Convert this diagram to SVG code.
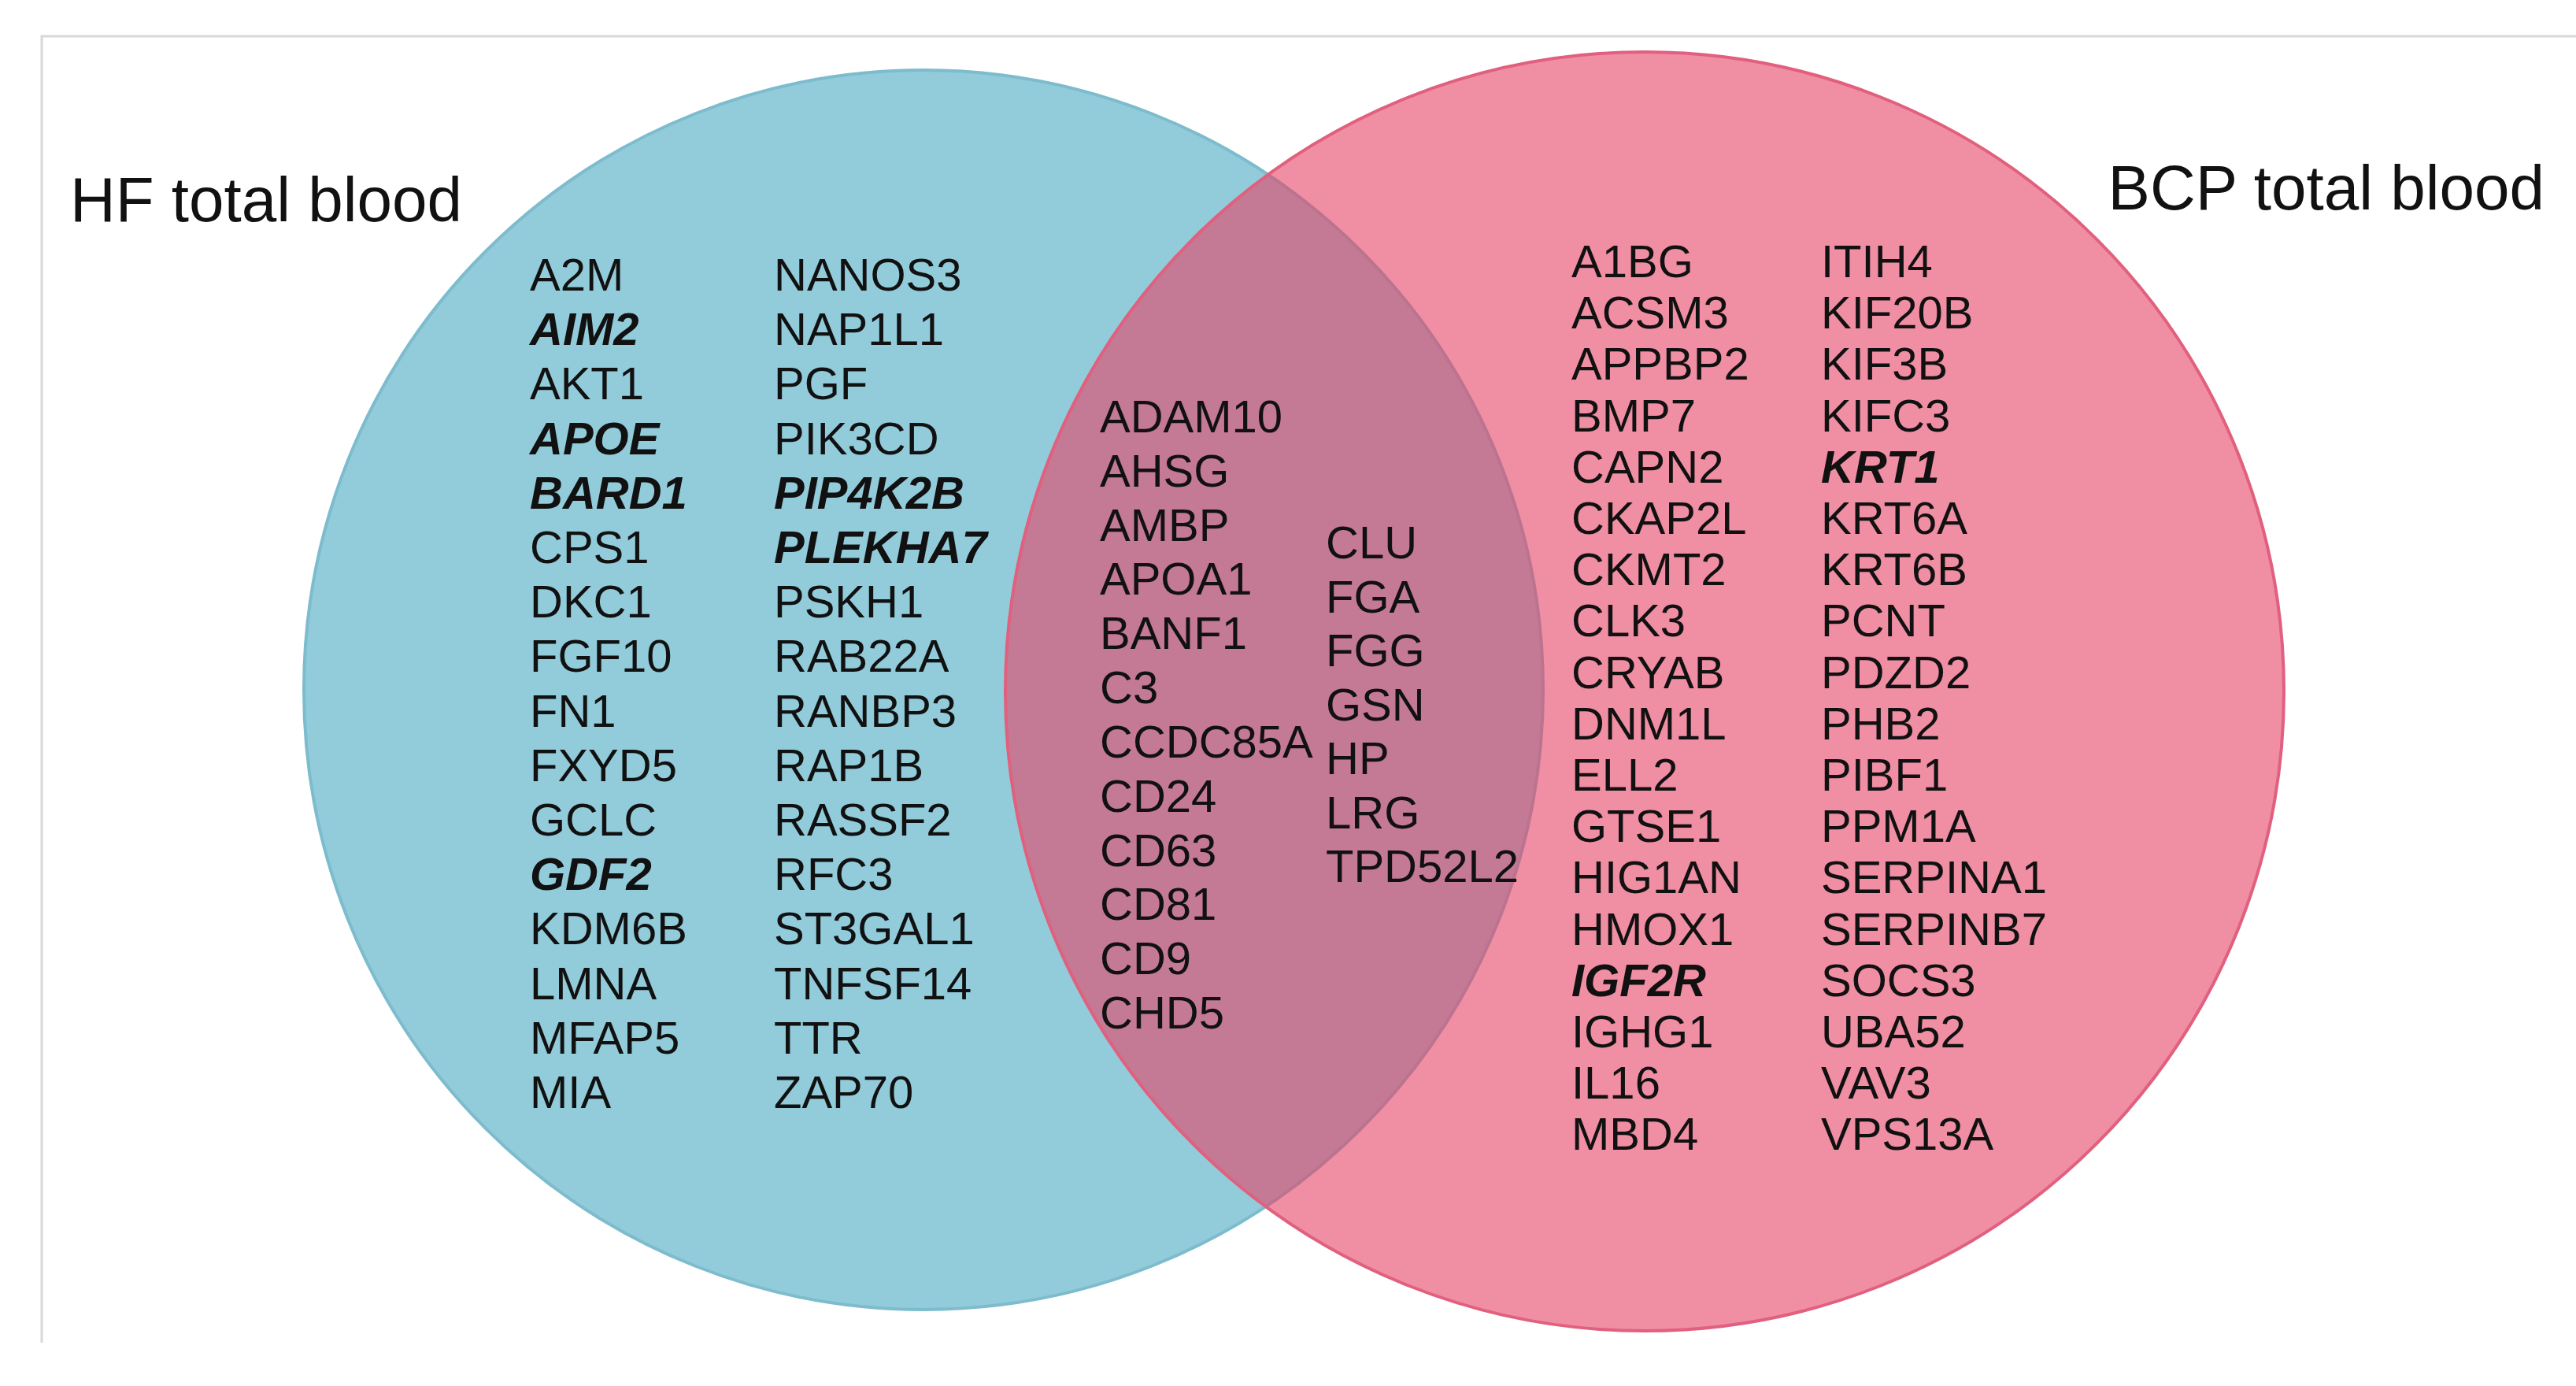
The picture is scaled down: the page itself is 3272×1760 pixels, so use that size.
<svg xmlns="http://www.w3.org/2000/svg" width="3272" height="1760" viewBox="0 0 3272 1760">
<style>
text{font-family:"Liberation Sans",Arial,sans-serif;font-size:58px;fill:#111}
.t{font-size:80px}
.b{font-weight:bold;font-style:italic}
</style>
<rect width="3272" height="1760" fill="#fff"/>
<path d="M53 1705 V46 H3272" fill="none" stroke="#d8d8d8" stroke-width="3"/>
<g id="hf"><circle cx="1173" cy="876" r="787" fill="#92cbda" stroke="#7dbccd" stroke-width="4"/></g>
<g id="bcp"><circle cx="2089" cy="878" r="812" fill="rgb(230,67,102)" fill-opacity="0.6" stroke="#e0607e" stroke-width="4"/></g>
<g id="connectors"></g>
<g id="titles">
<text class="t" x="89" y="281">HF total blood</text>
<text class="t" x="3232" y="266" text-anchor="end">BCP total blood</text>
</g>
<g id="hf-genes">
<text x="673" y="369">A2M</text>
<text x="673" y="438" class="b">AIM2</text>
<text x="673" y="507">AKT1</text>
<text x="673" y="577" class="b">APOE</text>
<text x="673" y="646" class="b">BARD1</text>
<text x="673" y="715">CPS1</text>
<text x="673" y="784">DKC1</text>
<text x="673" y="853">FGF10</text>
<text x="673" y="923">FN1</text>
<text x="673" y="992">FXYD5</text>
<text x="673" y="1061">GCLC</text>
<text x="673" y="1130" class="b">GDF2</text>
<text x="673" y="1199">KDM6B</text>
<text x="673" y="1269">LMNA</text>
<text x="673" y="1338">MFAP5</text>
<text x="673" y="1407">MIA</text>
<text x="983" y="369">NANOS3</text>
<text x="983" y="438">NAP1L1</text>
<text x="983" y="507">PGF</text>
<text x="983" y="577">PIK3CD</text>
<text x="983" y="646" class="b">PIP4K2B</text>
<text x="983" y="715" class="b">PLEKHA7</text>
<text x="983" y="784">PSKH1</text>
<text x="983" y="853">RAB22A</text>
<text x="983" y="923">RANBP3</text>
<text x="983" y="992">RAP1B</text>
<text x="983" y="1061">RASSF2</text>
<text x="983" y="1130">RFC3</text>
<text x="983" y="1199">ST3GAL1</text>
<text x="983" y="1269">TNFSF14</text>
<text x="983" y="1338">TTR</text>
<text x="983" y="1407">ZAP70</text>
</g>
<g id="shared-genes">
<text x="1397" y="549">ADAM10</text>
<text x="1397" y="618">AHSG</text>
<text x="1397" y="687">AMBP</text>
<text x="1397" y="755">APOA1</text>
<text x="1397" y="824">BANF1</text>
<text x="1397" y="893">C3</text>
<text x="1397" y="962">CCDC85A</text>
<text x="1397" y="1031">CD24</text>
<text x="1397" y="1100">CD63</text>
<text x="1397" y="1168">CD81</text>
<text x="1397" y="1237">CD9</text>
<text x="1397" y="1306">CHD5</text>
<text x="1684" y="709">CLU</text>
<text x="1684" y="778">FGA</text>
<text x="1684" y="846">FGG</text>
<text x="1684" y="915">GSN</text>
<text x="1684" y="983">HP</text>
<text x="1684" y="1052">LRG</text>
<text x="1684" y="1120">TPD52L2</text>
</g>
<g id="bcp-genes">
<text x="1996" y="352">A1BG</text>
<text x="1996" y="417">ACSM3</text>
<text x="1996" y="482">APPBP2</text>
<text x="1996" y="548">BMP7</text>
<text x="1996" y="613">CAPN2</text>
<text x="1996" y="678">CKAP2L</text>
<text x="1996" y="743">CKMT2</text>
<text x="1996" y="808">CLK3</text>
<text x="1996" y="874">CRYAB</text>
<text x="1996" y="939">DNM1L</text>
<text x="1996" y="1004">ELL2</text>
<text x="1996" y="1069">GTSE1</text>
<text x="1996" y="1134">HIG1AN</text>
<text x="1996" y="1200">HMOX1</text>
<text x="1996" y="1265" class="b">IGF2R</text>
<text x="1996" y="1330">IGHG1</text>
<text x="1996" y="1395">IL16</text>
<text x="1996" y="1460">MBD4</text>
<text x="2313" y="352">ITIH4</text>
<text x="2313" y="417">KIF20B</text>
<text x="2313" y="482">KIF3B</text>
<text x="2313" y="548">KIFC3</text>
<text x="2313" y="613" class="b">KRT1</text>
<text x="2313" y="678">KRT6A</text>
<text x="2313" y="743">KRT6B</text>
<text x="2313" y="808">PCNT</text>
<text x="2313" y="874">PDZD2</text>
<text x="2313" y="939">PHB2</text>
<text x="2313" y="1004">PIBF1</text>
<text x="2313" y="1069">PPM1A</text>
<text x="2313" y="1134">SERPINA1</text>
<text x="2313" y="1200">SERPINB7</text>
<text x="2313" y="1265">SOCS3</text>
<text x="2313" y="1330">UBA52</text>
<text x="2313" y="1395">VAV3</text>
<text x="2313" y="1460">VPS13A</text>
</g>
</svg>
